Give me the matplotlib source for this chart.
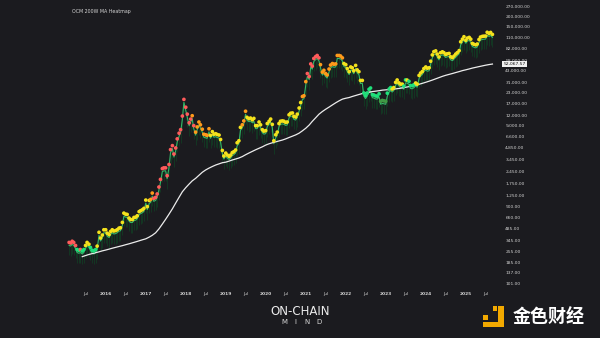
import pandas as pd
import matplotlib
matplotlib.use("Agg")
import matplotlib.pyplot as plt
import matplotlib.dates as mdates
from matplotlib import transforms
from matplotlib.patches import Rectangle
from matplotlib.ticker import FixedLocator, FuncFormatter, NullLocator

BG = "#1b1b1f"

# BTC closes, sampled on the 1st and 15th of each month (Feb 2015 - Sep 2025)
price_2015 = [300, 295, 310, 300, 275, 245, 240, 245, 235, 245, 275, 300, 285, 260, 240, 235, 245, 270, 400, 340, 370, 430]
price_2016 = [430, 390, 375, 410, 430, 415, 420, 430, 450, 455, 530, 690, 670, 665, 600, 575, 575, 610, 615, 640, 720, 740, 760, 790]
price_2017 = [1000, 830, 990, 1020, 1220, 1050, 1080, 1190, 1450, 1800, 2450, 2500, 2500, 2000, 2750, 4200, 4700, 3700, 4400, 5700, 6700, 7400, 10900, 17500]
price_2018 = [14000, 11500, 9000, 10000, 11000, 8300, 6900, 8000, 9200, 8500, 7500, 6500, 6400, 6300, 7600, 6300, 7000, 6500, 6600, 6450, 6350, 5600, 4100, 3500]
price_2019 = [3800, 3600, 3450, 3600, 3850, 3950, 4150, 5100, 5400, 7900, 8500, 9500, 12500, 10500, 10100, 10300, 9800, 10200, 8300, 8300, 9200, 8500, 7400, 7100]
price_2020 = [7200, 8800, 9400, 10000, 8600, 5400, 6400, 6900, 8800, 9400, 9500, 9400, 9100, 9200, 11300, 11800, 11900, 10800, 10600, 11500, 13700, 16000, 19000, 19400]
price_2021 = [29000, 36500, 33500, 48000, 45000, 56000, 59000, 61000, 57000, 47000, 38000, 40000, 36500, 35000, 41500, 46500, 48500, 47500, 48000, 61000, 61000, 60000, 57000, 48500]
price_2022 = [47000, 42000, 38500, 44000, 43000, 39500, 46000, 40500, 38500, 30000, 30000, 21000, 19500, 21000, 23300, 24200, 20000, 19800, 19300, 19200, 20500, 16600, 17000, 16800]
price_2023 = [16600, 20900, 23500, 24500, 23500, 24500, 28400, 30400, 28000, 27000, 27000, 25500, 30500, 30300, 29300, 26000, 25800, 26600, 27900, 27000, 34600, 37000, 38700, 42000]
price_2024 = [44000, 42500, 43000, 51800, 62000, 68000, 69500, 63500, 58500, 66000, 67700, 66000, 62700, 64000, 64600, 58800, 57300, 60000, 63500, 66000, 70000, 90000, 97000, 104000]
price_2025 = [94000, 100000, 102000, 97000, 86000, 84000, 82500, 84500, 96000, 103000, 105000, 105500, 106000, 118000, 114000, 117500, 111000]

# heatmap bucket per point: r=red, o=orange, y=yellow, g=green, d=dark green
heat_2015 = "rrrrrggrggyyyggggyyyyy"
heat_2016 = "y" * 24
heat_2017 = "yyyoor" + "r" * 18
heat_2018 = "rrrrorooooooooo" + "y" * 9
heat_2019 = "y" * 10 + "ooo" + "y" * 11
heat_2020 = "y" * 22 + "oo"
heat_2021 = "o" + "r" * 8 + "o" * 14 + "y"
heat_2022 = "y" * 11 + "g" * 9 + "gddd"
heat_2023 = "dgggyyyyyyyggyggggyyyyyy"
heat_2024 = "y" * 24
heat_2025 = "y" * 17

# 200 week moving average, monthly (Jun 2015 - Sep 2025)
ma_2015 = [218, 225, 232, 238, 244, 250, 257]
ma_2016 = [263, 270, 277, 284, 291, 298, 306, 314, 323, 332, 342, 352]
ma_2017 = [362, 380, 400, 430, 480, 550, 630, 730, 850, 1000, 1180, 1380]
ma_2018 = [1550, 1720, 1880, 2020, 2200, 2400, 2560, 2700, 2830, 2950, 3050, 3150]
ma_2019 = [3200, 3300, 3400, 3500, 3600, 3750, 3950, 4150, 4350, 4550, 4750, 4950]
ma_2020 = [5200, 5400, 5550, 5700, 5850, 6000, 6200, 6450, 6700, 6950, 7300, 7800]
ma_2021 = [8400, 9200, 10200, 11300, 12500, 13500, 14400, 15300, 16300, 17300, 18300, 19200]
ma_2022 = [19700, 20100, 20700, 21300, 21900, 22500, 23000, 23400, 23800, 24100, 24400, 24800]
ma_2023 = [25000, 25200, 25400, 25700, 26000, 26400, 26900, 27400, 28000, 28600, 29300, 30100]
ma_2024 = [31000, 32000, 33000, 34200, 35400, 36700, 37800, 38800, 39800, 40900, 42000, 43200]
ma_2025 = [44200, 45300, 46400, 47400, 48400, 49400, 50400, 51300, 52067.57]

y_ticks = [101, 137, 185, 255, 345, 485, 660, 900, 1250, 1750, 2450, 3450, 4850, 6600,
           9000, 12000, 17000, 23000, 31000, 43000, 58000, 82000, 110000, 150000, 200000, 270000]

price = (price_2015 + price_2016 + price_2017 + price_2018 + price_2019 + price_2020
         + price_2021 + price_2022 + price_2023 + price_2024 + price_2025)
heat = (heat_2015 + heat_2016 + heat_2017 + heat_2018 + heat_2019 + heat_2020
        + heat_2021 + heat_2022 + heat_2023 + heat_2024 + heat_2025)
ma = (ma_2015 + ma_2016 + ma_2017 + ma_2018 + ma_2019 + ma_2020
      + ma_2021 + ma_2022 + ma_2023 + ma_2024 + ma_2025)

price_dates = pd.date_range("2015-02-01", "2025-09-01", freq="SMS")
ma_dates = pd.date_range("2015-06-01", "2025-09-01", freq="MS")

heat_colors = {"r": "#ff5b5b", "o": "#ff9a1a", "y": "#f4e21c", "g": "#1fe07a", "d": "#3f9a45"}

fig = plt.figure(figsize=(6, 3.38), dpi=100, facecolor=BG)
ax = fig.add_axes([0, 51 / 338, 500 / 600, 287 / 338], facecolor=BG)
ax.set_yscale("log")

xp = mdates.date2num(price_dates)
xm = mdates.date2num(ma_dates)

up = transforms.offset_copy(ax.transData, fig=fig, x=0, y=3, units="dots")
down = transforms.offset_copy(ax.transData, fig=fig, x=0, y=-5, units="dots")

# wicks, close line, heat dots, MA
ax.plot(xp, price, ls="none", marker="|", ms=7, mew=0.4, color="#0e4a25", transform=down, zorder=1)
ax.plot(xp, price, color="#34b868", lw=0.8, zorder=2)
ax.plot(xm, ma, color="#ececec", lw=0.9, zorder=3)
ax.scatter(xp, price, c=[heat_colors[h] for h in heat], s=7, linewidths=0, transform=up, zorder=4)

ax.set_ylim(92, 321600)
ax.set_xlim(mdates.date2num(pd.Timestamp("2013-05-11")), mdates.date2num(pd.Timestamp("2025-11-09")))

# x axis: Jul / year labels
x_tick_dates = []
x_tick_labels = []
for yr in range(2015, 2026):
    if yr > 2015:
        x_tick_dates.append(pd.Timestamp(f"{yr}-01-01"))
        x_tick_labels.append(str(yr))
    x_tick_dates.append(pd.Timestamp(f"{yr}-07-01"))
    x_tick_labels.append("Jul")
ax.set_xticks(mdates.date2num(x_tick_dates))
ax.set_xticklabels(x_tick_labels)
ax.tick_params(axis="x", length=0, pad=3.4, labelsize=3.2, labelcolor="#d2d2d2")
for lbl in ax.get_xticklabels():
    if lbl.get_text() != "Jul":
        lbl.set_fontweight("bold")

# y axis on the right
ax.yaxis.tick_right()
ax.yaxis.set_major_locator(FixedLocator(y_ticks))
ax.yaxis.set_minor_locator(NullLocator())
ax.yaxis.set_major_formatter(FuncFormatter(lambda v, p: f"{v:,.2f}"))
ax.tick_params(axis="y", length=0, pad=3.8, labelsize=3.2, labelcolor="#d2d2d2")
for s in ax.spines.values():
    s.set_visible(False)

# last MA value tag
ax.annotate(f"{ma[-1]:,.2f}", xy=(1, ma[-1]), xycoords=("axes fraction", "data"),
            xytext=(2.4, 0), textcoords="offset points", ha="left", va="center",
            fontsize=3.2, color="#111111", annotation_clip=False,
            bbox=dict(boxstyle="square,pad=0.25", fc="#f0f0f0", ec="none"))

fig.text(72 / 600, 1 - 11.7 / 338, "OCM 200W MA Heatmap", ha="left", va="center",
         fontsize=3.4, color="#d5d5d5")

# ON-CHAIN MIND mark
fig.text(300 / 600, 1 - 311.7 / 338, "ON-CHAIN", ha="center", va="center",
         fontsize=8.5, color="#ececec")
for i, ch in enumerate("MIND"):
    fig.text((284 + 11.6 * i) / 600, 1 - 322.5 / 338, ch, ha="center", va="center",
             fontsize=5, color="#d8d8d8")


def px_rect(x, y, w, h, color):
    fig.patches.append(Rectangle((x / 600, 1 - (y + h) / 338), w / 600, h / 338,
                                 transform=fig.transFigure, color=color, lw=0))


gold = "#f2a900"
px_rect(498, 306, 5.5, 21, gold)
px_rect(483, 321.5, 20, 5.5, gold)
px_rect(492.5, 306, 4.5, 5, gold)
px_rect(483, 314.5, 5, 5, gold)
fig.text(549 / 600, 1 - 317.5 / 338, "金色财经", ha="center", va="center", fontsize=13,
         fontweight="bold", family=["Noto Sans CJK SC", "DejaVu Sans"], color="white")

fig.savefig("out.png", dpi=100, facecolor=BG)
